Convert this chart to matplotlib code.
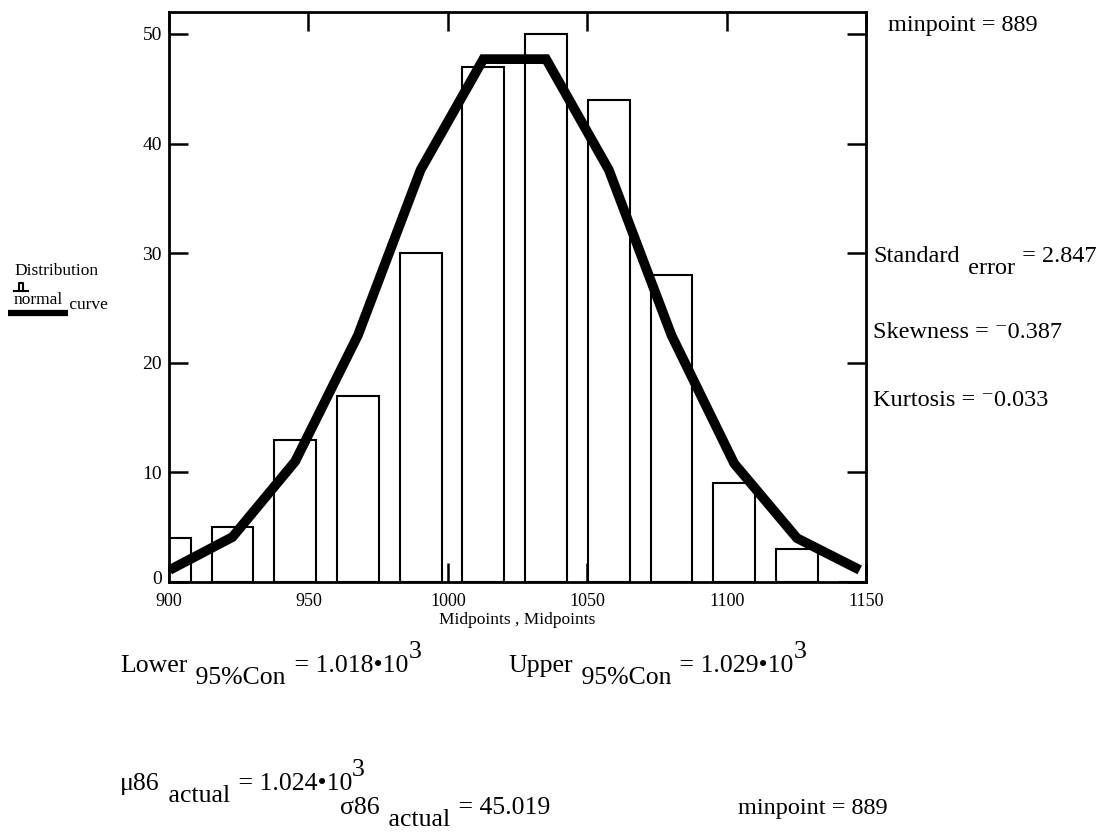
import matplotlib
matplotlib.use("Agg")
import numpy as np
from matplotlib import pyplot as plt
from matplotlib.lines import Line2D
from matplotlib.transforms import offset_copy

plt.rcParams['font.family'] = ['Liberation Serif', 'DejaVu Serif']

# histogram midpoints (minpoint 889, bin width 22.5) and counts
midpoints = [900.25, 922.75, 945.25, 967.75, 990.25, 1012.75, 1035.25,
             1057.75, 1080.25, 1102.75, 1125.25, 1147.75]
distribution = [4, 5, 13, 17, 30, 47, 50, 44, 28, 9, 3, 0]
normal_curve = [1.1, 4.1, 11.0, 22.5, 37.6, 47.7, 47.7, 37.6, 22.5, 10.8, 4.0, 1.1]

x_ticks = [900, 950, 1000, 1050, 1100, 1150]
y_ticks = [0, 10, 20, 30, 40, 50]

W, H = 1110, 834
fig = plt.figure(figsize=(W / 100, H / 100), dpi=100)
ax = fig.add_axes([169 / W, 1 - 582 / H, (866 - 169) / W, (582 - 12) / H])

ax.bar(midpoints, distribution, width=15, facecolor='white', edgecolor='black',
       linewidth=1.5, zorder=2)
ax.plot(midpoints, normal_curve, color='black', linewidth=7, zorder=3,
        solid_capstyle='butt', solid_joinstyle='miter')

ax.set_xlim(900, 1150)
ax.set_ylim(0, 52)
ax.set_xticks(x_ticks)
ax.set_yticks(y_ticks)
ax.tick_params(direction='in', length=14, width=1.8, top=True, right=True, pad=5)
ax.tick_params(axis='x', labelsize=13, pad=8)
ax.tick_params(axis='y', labelsize=14)
lab0 = ax.get_yticklabels()[0]
lab0.set_transform(offset_copy(lab0.get_transform(), fig=fig, y=5, units='dots'))
for s in ax.spines.values():
    s.set_linewidth(2)
ax.set_xlabel("Midpoints , Midpoints", fontsize=12.5, labelpad=1)


def chain(x, y, parts, size=18.5, gap=2):
    # parts: (text, baseline shift in px, fontsize or None)
    r = fig.canvas.get_renderer()
    for s, dy, fs in parts:
        if s == "3":
            x -= gap
        t = fig.text(x / W, 1 - (y + dy) / H, s, fontsize=fs or size,
                     ha='left', va='baseline')
        x += t.get_window_extent(r).width + gap


chain(888, 31, [("minpoint = 889", 0, 17.5)])
chain(873, 262, [("Standard", 0, 17.5), (" error", 12, 17.5), (" = 2.847", 0, 17.5)])
chain(873, 338, [("Skewness = \u207b0.387", 0, 17.5)])
chain(873, 406, [("Kurtosis = \u207b0.033", 0, 17.5)])

chain(120, 672, [("Lower", 0, None), (" 95%Con", 12, None),
                 (" = 1.018\u202210", 0, None), ("3", -14, None)])
chain(508, 672, [("Upper", 0, None), (" 95%Con", 12, None),
                 (" = 1.029\u202210", 0, None), ("3", -14, None)])
chain(120, 790, [("\u03bc86", 0, None), (" actual", 12, None),
                 (" = 1.024\u202210", 0, None), ("3", -14, None)])
chain(340, 814, [("\u03c386", 0, None), (" actual", 12, None), (" = 45.019", 0, None)])
chain(738, 814, [("minpoint = 889", 0, 17.5)])

# legend at the left
chain(14, 275, [("Distribution", 0, 12.5)])
fig.add_artist(Line2D([19 / W, 19 / W, 23 / W, 23 / W], [1 - 291 / H, 1 - 283 / H, 1 - 283 / H, 1 - 291 / H],
                      color='black', linewidth=1.5))
fig.add_artist(Line2D([14 / W, 28 / W], [1 - 291 / H, 1 - 291 / H], color='black', linewidth=1.5))
chain(14, 304, [("normal", 0, 12.5), (" curve", 5, 12.5)])
fig.add_artist(Line2D([8 / W, 68 / W], [1 - 313 / H, 1 - 313 / H], color='black', linewidth=4.5,
                      solid_capstyle='butt'))

fig.savefig("out.png", dpi=100)
